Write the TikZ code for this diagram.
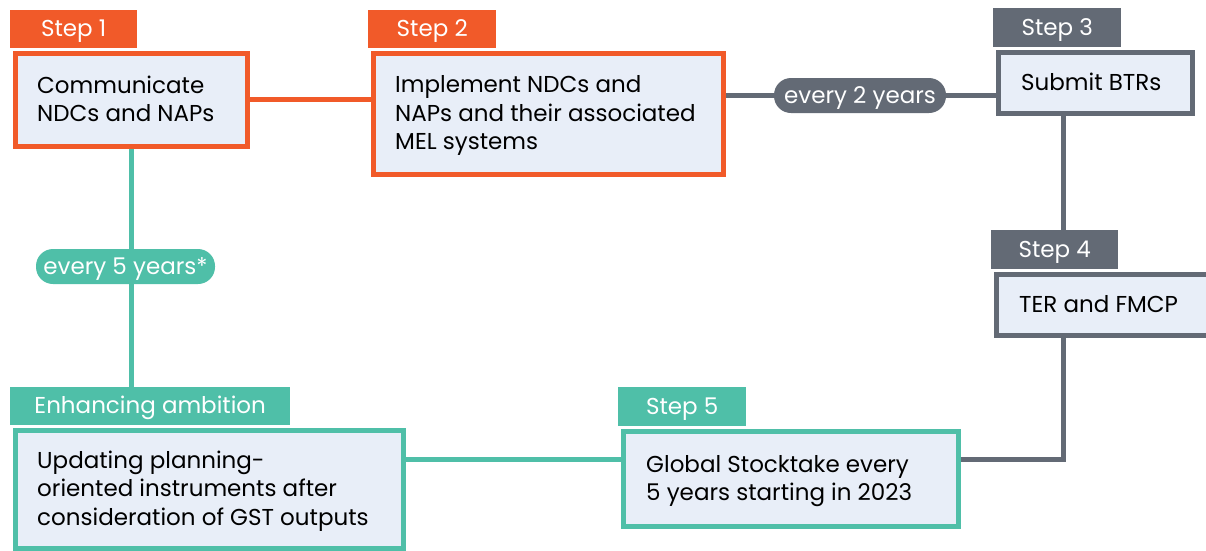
\documentclass[tikz,border=0pt]{standalone}
\usepackage{fontspec}
\setmainfont{Poppins}
\usetikzlibrary{backgrounds,calc}
\definecolor{org}{HTML}{F15A29}
\definecolor{gry}{HTML}{636A75}
\definecolor{tea}{HTML}{4FBFA8}
\definecolor{lbl}{HTML}{E8EEF8}
\newcommand{\fs}{\fontsize{23}{28.5}\selectfont}
\begin{document}
\begin{tikzpicture}[x=1pt,y=-1pt,
  stepbox/.style={draw=#1, fill=lbl, line width=5pt, anchor=north west, inner sep=0pt},
  steptab/.style={fill=#1, anchor=north west, inner sep=0pt, text=white, font=\fs, text height=15.5pt, text depth=0pt},
  steptext/.style={anchor=west, inner sep=0pt, align=left, font=\fs, text=black, text height=#1, text depth=0pt},
  pill/.style={fill=#1, rounded corners=17pt, inner sep=0pt, text=white, font=\fs, minimum height=35pt, text height=15.5pt, text depth=0pt},
  conn/.style={draw=#1, line width=5pt}]
\useasboundingbox (0,0) rectangle (1206,550);
% tabs
\node[steptab=org, minimum width=127pt, minimum height=38pt] (t1) at (10,10) {Step 1};
\node[steptab=org, minimum width=128pt, minimum height=38pt] (t2) at (368,10) {Step 2};
\node[steptab=gry, minimum width=128pt, minimum height=39pt] (t3) at (993,8) {Step 3};
\node[steptab=gry, minimum width=127pt, minimum height=39pt] (t4) at (991,230) {Step 4};
\node[steptab=tea, minimum width=128pt, minimum height=39pt] (t5) at (618,387) {Step 5};
\node[steptab=tea, minimum width=280pt, minimum height=38pt] (te) at (10,387) {Enhancing ambition};
% boxes
\node[stepbox=org, minimum width=232pt, minimum height=93pt] (s1) at (12.5,50.5) {};
\node[stepbox=org, minimum width=350pt, minimum height=121pt] (s2) at (370.5,50.5) {};
\node[stepbox=gry, minimum width=194pt, minimum height=61pt] (s3) at (995.5,49.5) {};
\node[stepbox=gry, minimum width=217pt, minimum height=61pt] (s4) at (993.5,271.5) {};
\node[stepbox=tea, minimum width=335pt, minimum height=95pt] (s5) at (620.5,428.5) {};
\node[stepbox=tea, minimum width=388pt, minimum height=118pt] (se) at (12.5,427.5) {};
% texts
\node[steptext=44pt] (x1) at ([xshift=24.5pt]s1.west) {Communicate\\NDCs and NAPs};
\node[steptext=72.5pt] (x2) at ([xshift=24.5pt]s2.west) {Implement NDCs and\\NAPs and their associated\\MEL systems};
\node[steptext=15.5pt] (x3) at ([xshift=25.5pt]s3.west) {Submit BTRs};
\node[steptext=15.5pt] (x4) at ([xshift=25.5pt]s4.west) {TER and FMCP};
\node[steptext=44pt] (x5) at ([xshift=25.5pt]s5.west) {Global Stocktake every\\5 years starting in 2023};
\node[steptext=72.5pt] (xe) at ([xshift=24.5pt]se.west) {Updating planning-\\oriented instruments after\\consideration of GST outputs};
% pills
\node[pill=gry, minimum width=172pt] (p2) at (860,95.5) {every 2 years};
\node[pill=tea, minimum width=179pt] (p5) at (125.5,266.5) {every 5 years*};
% helper coordinates
\coordinate (v) at (1063,0);
\coordinate (h) at (0,459);
\coordinate (u) at (131,0);
\begin{scope}[on background layer]
\draw[conn=org] (s1.east) -- (s1.east -| s2.west);
\draw[conn=gry] (s2.east |- p2) -- (p2.west);
\draw[conn=gry] (p2.east) -- (s3.west |- p2);
\draw[conn=gry] (v |- s3.south) -- (v |- t4.north);
\draw[conn=gry] (v |- s4.south) -- (v |- h) -- (s5.east |- h);
\draw[conn=tea] (se.east |- h) -- (s5.west |- h);
\draw[conn=tea] (u |- s1.south) -- (u |- te.north);
\end{scope}
\end{tikzpicture}
\end{document}
